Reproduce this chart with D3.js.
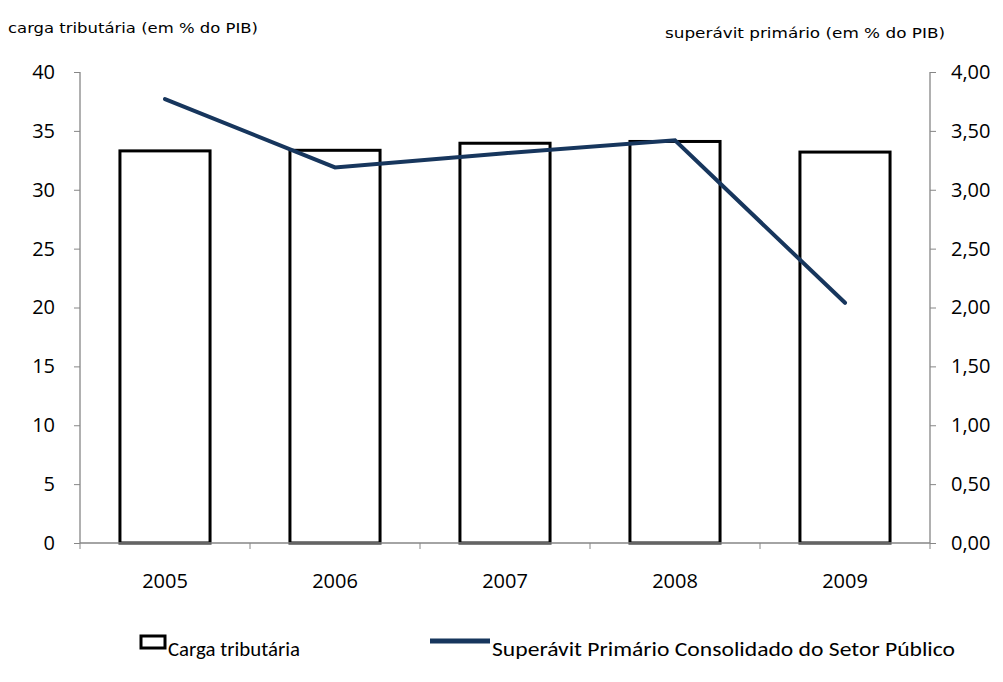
<!DOCTYPE html>
<html>
<head>
<meta charset="utf-8">
<script src="https://cdn.jsdelivr.net/npm/d3@7"></script>
<style>
  body { margin: 0; background: #fff; }
  text { font-family: "Open Sans", sans-serif; fill: #000; }
  .title { font-family: "Liberation Sans Narrow", "DejaVu Sans Condensed", Carlito, sans-serif; font-size: 14px; }
  .legend-text { font-family: Carlito, "Open Sans", sans-serif; font-size: 20px; }
</style>
</head>
<body>
<div class="chart"></div>
<script>
const years = ["2005", "2006", "2007", "2008", "2009"];
const cargaTributaria = [33.3, 33.35, 33.95, 34.1, 33.2];
const superavit = [3.77, 3.19, 3.31, 3.42, 2.04];
const leftTicks = [0, 5, 10, 15, 20, 25, 30, 35, 40];
const rightTicks = [0, 0.5, 1, 1.5, 2, 2.5, 3, 3.5, 4];

const data = years.map((y, i) => ({ year: y, carga: cargaTributaria[i], sup: superavit[i] }));

const margin = { top: 72, right: 73, bottom: 139, left: 80 };
const width = 1003 - margin.left - margin.right;
const height = 682 - margin.top - margin.bottom;

const svg = d3
  .select(".chart")
  .append("svg")
  .attr("width", 1003)
  .attr("height", 682);

const g = svg
  .append("g")
  .attr("transform", "translate(" + margin.left + "," + margin.top + ")");

const xScale = d3.scaleBand().domain(years).range([0, width]).paddingInner(0).paddingOuter(0);
const yLeft = d3.scaleLinear().domain([0, 40]).range([height, 0]);
const yRight = d3.scaleLinear().domain([0, 4]).range([height, 0]);

const axisColor = "#868686";

// bars
const barW = xScale.bandwidth() * 0.53;
g.selectAll(".bar")
  .data(data)
  .enter()
  .append("rect")
  .attr("class", "bar")
  .attr("x", (d) => xScale(d.year) + (xScale.bandwidth() - barW) / 2)
  .attr("y", (d) => yLeft(d.carga))
  .attr("width", barW)
  .attr("height", (d) => height - yLeft(d.carga))
  .attr("fill", "#fff")
  .attr("stroke", "#000")
  .attr("stroke-width", 3);

// left axis
const leftAxis = g.append("g").call(d3.axisLeft(yLeft).tickValues(leftTicks).tickSize(6).tickPadding(19));
// right axis
const rightAxis = g
  .append("g")
  .attr("transform", "translate(" + width + ",0)")
  .call(
    d3.axisRight(yRight)
      .tickValues(rightTicks)
      .tickSize(6)
      .tickPadding(15)
      .tickFormat((d) => d.toFixed(2).replace(".", ","))
  );
// bottom axis
const bottomAxis = g
  .append("g")
  .attr("transform", "translate(0," + height + ")")
  .call(d3.axisBottom(xScale).tickSize(0).tickPadding(31));

// category boundary ticks
const bounds = years.map((y) => xScale(y)).concat([width]);
g.append("g")
  .selectAll("line")
  .data(bounds)
  .enter()
  .append("line")
  .attr("x1", (d) => d)
  .attr("x2", (d) => d)
  .attr("y1", height)
  .attr("y2", height + 6)
  .attr("stroke", axisColor);

[leftAxis, rightAxis, bottomAxis].forEach((a) => {
  a.select(".domain").attr("stroke", axisColor).attr("stroke-width", 1.3);
  a.selectAll(".tick line").attr("stroke", axisColor);
  a.selectAll(".tick text").style("font-size", "20px").attr("fill", "#000");
});
bottomAxis.select(".domain").attr("d", "M0,0H" + width);
leftAxis.select(".domain").attr("d", "M0,0V" + height);
rightAxis.select(".domain").attr("d", "M0,0V" + height);

// line
const line = d3
  .line()
  .x((d) => xScale(d.year) + xScale.bandwidth() / 2)
  .y((d) => yRight(d.sup));

g.append("path")
  .datum(data)
  .attr("d", line)
  .attr("fill", "none")
  .attr("stroke", "#17365d")
  .attr("stroke-width", 4)
  .attr("stroke-linecap", "round");

// axis titles
svg.append("text").attr("class", "title").attr("x", 8).attr("y", 33)
  .attr("textLength", 250).attr("lengthAdjust", "spacingAndGlyphs")
  .text("carga tributária (em % do PIB)");
svg.append("text").attr("class", "title").attr("x", 665).attr("y", 38)
  .attr("textLength", 280).attr("lengthAdjust", "spacingAndGlyphs")
  .text("superávit primário  (em % do PIB)");

// legend
const legend = svg.append("g");
legend.append("rect")
  .attr("x", 141).attr("y", 636).attr("width", 24).attr("height", 12)
  .attr("fill", "#fff").attr("stroke", "#000").attr("stroke-width", 3);
legend.append("text").attr("class", "legend-text").attr("x", 168).attr("y", 656)
  .attr("textLength", 132).attr("lengthAdjust", "spacingAndGlyphs")
  .text("Carga tributária");
legend.append("line")
  .attr("x1", 430).attr("x2", 490).attr("y1", 641).attr("y2", 641)
  .attr("stroke", "#17365d").attr("stroke-width", 5);
legend.append("text").attr("class", "legend-text").attr("x", 492).attr("y", 656)
  .attr("textLength", 463).attr("lengthAdjust", "spacingAndGlyphs")
  .text("Superávit Primário  Consolidado  do Setor Público");
</script>
</body>
</html>
